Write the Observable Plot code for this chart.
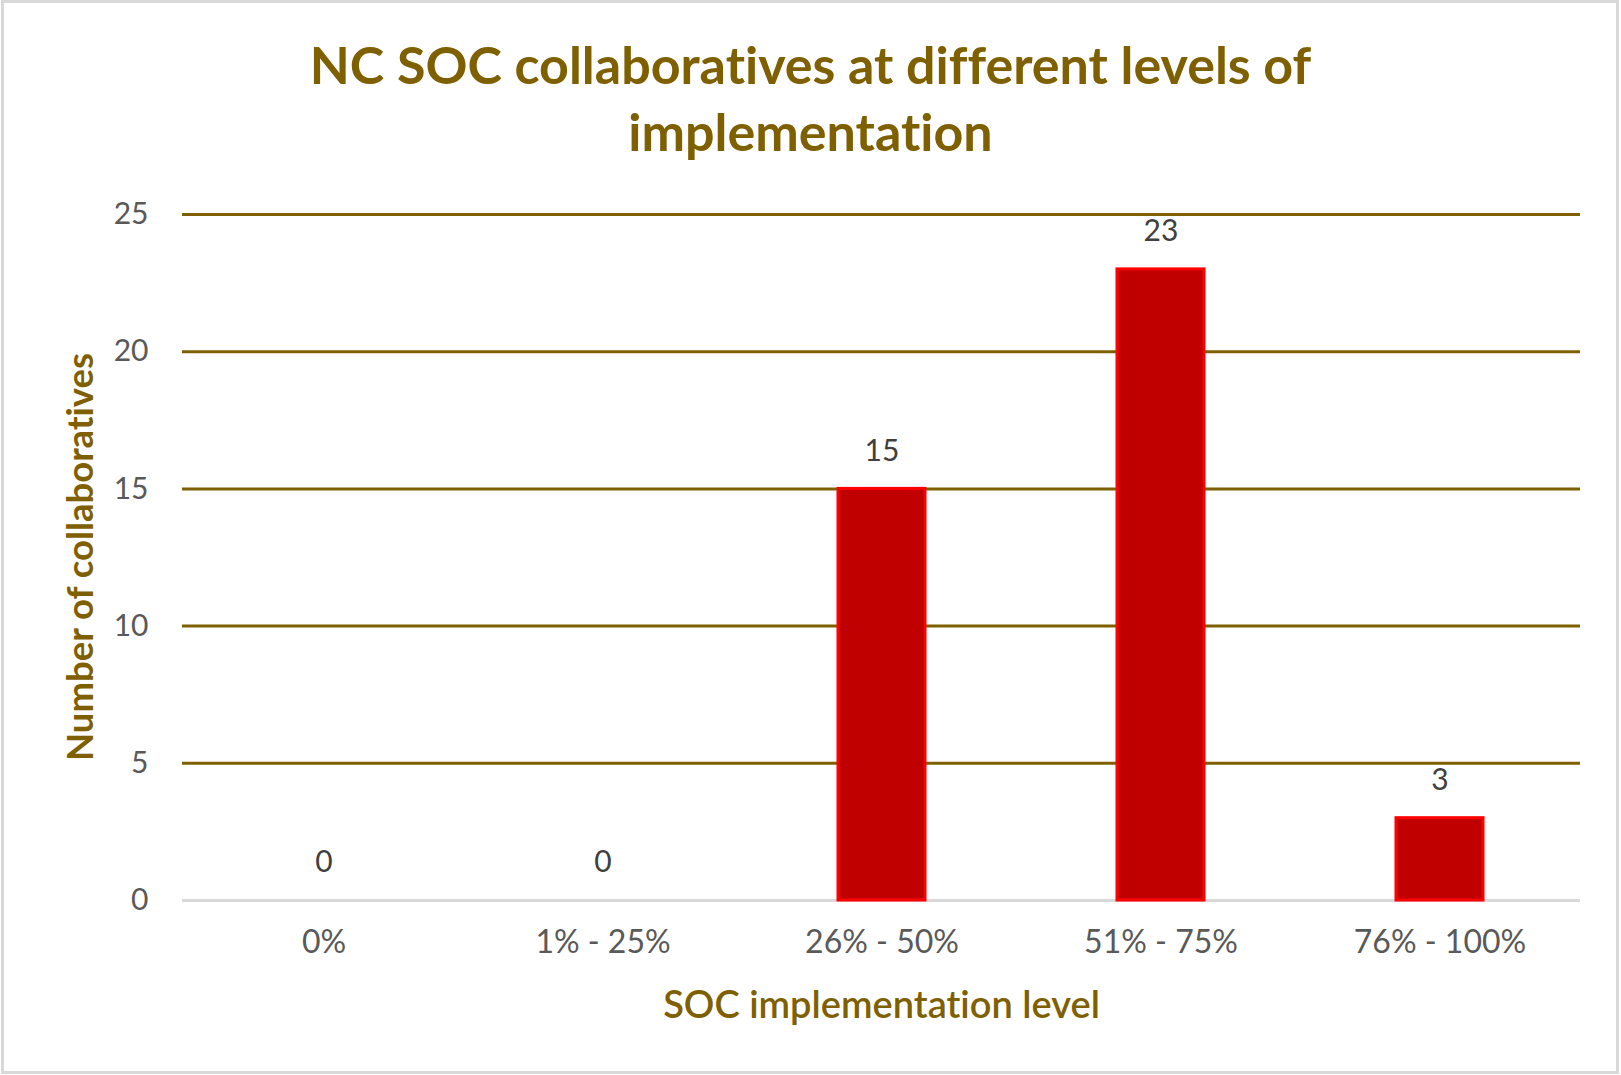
<!DOCTYPE html>
<html>
<head>
<meta charset="utf-8">
<script src="https://cdn.jsdelivr.net/npm/d3@7"></script>
<script src="https://cdn.jsdelivr.net/npm/@observablehq/plot@0.6"></script>
<style>
  html, body { margin: 0; padding: 0; background: #fff; }
  #wrap { position: relative; width: 1621px; height: 1075px; overflow: hidden; background: #fff; font-variant-ligatures: none; }
  svg text { font-variant-ligatures: none; }
  #border { position: absolute; left: 1px; top: 0px; width: 1618px; height: 1074px; box-sizing: border-box; border: 3px solid #D9D9D9; pointer-events: none; }
  #title { position: absolute; left: 0; top: 31px; width: 1621px; text-align: center;
           font-family: Lato, sans-serif; font-weight: 700; font-size: 52px; line-height: 67px; color: #7F6000; }
  #ytitle { position: absolute; left: 79px; top: 557px; transform: translate(-50%, -50%) rotate(-90deg);
            white-space: nowrap; font-family: Lato, sans-serif; font-weight: 700; font-size: 36.5px; line-height: 40px; color: #7F6000; }
  #chart { position: absolute; left: 0; top: 180px; }
</style>
</head>
<body>
<div id="wrap">
  <div id="title">NC SOC collaboratives at different levels of<br>implementation</div>
  <div id="chart"></div>
  <div id="ytitle"></div>
  <div id="border"></div>
</div>
<script>
const categories = ["0%", "1% - 25%", "26% - 50%", "51% - 75%", "76% - 100%"];
const counts = [0, 0, 15, 23, 3];
const yTicks = [0, 5, 10, 15, 20, 25];
const xTitle = "SOC implementation level";
const yTitle = "Number of collaboratives";

const data = categories.map((c, i) => ({level: c, count: counts[i]}));

document.getElementById("ytitle").textContent = yTitle;

const chart = Plot.plot({
  width: 1621,
  height: 860,
  marginTop: 34,
  marginBottom: 140,
  marginLeft: 182,
  marginRight: 41,
  style: {fontFamily: "Lato, sans-serif", fontSize: "30px", background: "transparent"},
  x: {domain: categories, paddingInner: 0.689, paddingOuter: 0.3445, label: null},
  y: {domain: [0, 25], ticks: yTicks, label: null},
  marks: [
    Plot.ruleY(yTicks.filter(t => t > 0), {stroke: "#7F6000", strokeWidth: 3}),
    Plot.ruleY([0], {stroke: "#D9D9D9", strokeWidth: 3}),
    Plot.barY(data, {filter: d => d.count > 0, x: "level", y: "count", fill: "#C00000", stroke: "#FF0000", strokeWidth: 3}),
    Plot.text(data, {x: "level", y: "count", text: d => String(d.count), dy: -38, fill: "#404040", fontSize: 30}),
    Plot.axisX({tickSize: 0, tickPadding: 30, fontSize: 32, color: "#595959", label: null}),
    Plot.axisY({ticks: yTicks, tickSize: 0, tickPadding: 34, fontSize: 30, color: "#595959", label: null}),
    Plot.text([xTitle], {frameAnchor: "bottom", dy: 117, text: d => d, fill: "#7F6000", fontSize: 38, fontWeight: 600})
  ]
});
document.getElementById("chart").appendChild(chart);
</script>
</body>
</html>
